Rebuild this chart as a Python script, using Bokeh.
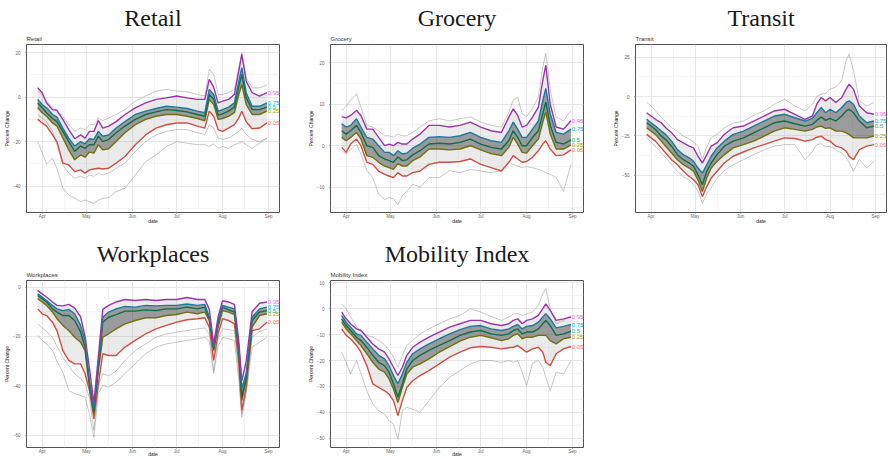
import pandas as pd
from bokeh.plotting import figure
from bokeh.models import Range1d, FixedTicker, DatetimeTickFormatter, Title, ColumnDataSource
from bokeh.layouts import row, column
from bokeh.core.properties import value
from bokeh.embed import file_html
from bokeh.resources import INLINE

DATES = ["2020-03-29", "2020-04-01", "2020-04-04", "2020-04-08", "2020-04-11", "2020-04-15",
         "2020-04-19", "2020-04-23", "2020-04-27", "2020-04-30", "2020-05-03", "2020-05-06",
         "2020-05-09", "2020-05-12", "2020-05-16", "2020-05-21", "2020-05-27", "2020-06-03",
         "2020-06-10", "2020-06-17", "2020-06-24", "2020-07-01", "2020-07-08", "2020-07-15",
         "2020-07-20", "2020-07-23", "2020-07-26", "2020-07-29", "2020-08-01", "2020-08-05",
         "2020-08-09", "2020-08-12", "2020-08-14", "2020-08-17", "2020-08-21", "2020-08-26",
         "2020-08-31"]

QUANTILES = ["0.05", "0.25", "0.5", "0.75", "0.95"]
HUES = ["#F8766D", "#A3A500", "#00BF7D", "#00B0F6", "#E76BF3"]
LINE_COLORS = ["#CF4F45", "#707010", "#0E6E4B", "#1D79A0", "#9B36A8"]

MONTH_TICKS = ["2020-04-01", "2020-05-01", "2020-06-01", "2020-07-01", "2020-08-01", "2020-09-01"]
MINOR_X = ["2020-03-16", "2020-04-16", "2020-05-16", "2020-06-16", "2020-07-16", "2020-08-16", "2020-09-16"]

# ---------------- Retail ----------------
R05 = [-10.0, -11.6, -13.0, -17.0, -20.0, -29.7, -30.5, -33.5, -32.7, -34.2, -32.7, -32.3, -32.0, -32.3, -32.0, -29.7, -26.7, -21.4, -17.0, -13.9, -12.4, -11.6, -11.6, -13.0, -13.9, -6.3, -8.6, -14.6, -15.4, -13.9, -12.4, -9.4, -6.3, -11.0, -14.2, -13.9, -11.6]
R25 = [-4.8, -7.0, -8.6, -11.6, -13.0, -18.4, -23.7, -28.2, -26.0, -27.0, -24.7, -25.2, -21.4, -23.7, -23.2, -20.0, -16.0, -12.4, -10.0, -8.6, -7.8, -7.8, -8.6, -9.6, -10.6, -1.0, -3.3, -10.0, -9.6, -8.6, -7.0, 1.2, 5.7, -3.3, -7.8, -7.8, -6.3]
R50 = [-2.6, -4.8, -7.0, -9.6, -11.0, -15.4, -20.0, -24.4, -22.0, -23.0, -21.4, -21.4, -17.6, -20.0, -19.0, -16.0, -13.0, -10.0, -7.8, -6.6, -5.6, -6.0, -6.6, -7.8, -8.6, 1.2, -1.0, -8.1, -7.5, -6.3, -4.5, 5.0, 10.3, -0.3, -5.6, -5.6, -4.5]
R75 = [-1.0, -3.3, -4.8, -7.8, -9.0, -13.9, -18.4, -22.0, -20.0, -21.0, -18.7, -19.0, -15.4, -17.6, -17.0, -13.9, -11.0, -7.8, -6.3, -5.1, -4.1, -4.5, -5.1, -6.3, -7.0, 3.5, 1.2, -6.3, -5.6, -4.5, -2.6, 7.2, 13.3, 2.0, -4.1, -4.1, -2.6]
R95 = [4.2, 2.0, -2.6, -5.6, -5.9, -10.0, -14.6, -18.7, -17.0, -18.4, -15.4, -15.4, -10.5, -13.9, -13.0, -11.0, -7.8, -4.8, -2.6, -1.0, -0.3, 0.5, -0.3, -1.0, -1.0, 8.0, 4.5, -2.6, -1.8, -1.0, 1.2, 11.8, 19.3, 7.2, 2.0, 0.5, 2.0]
RG1 = [-20, -25, -30, -27.5, -32, -41, -44, -45.5, -47, -46.3, -47, -47.8, -46.3, -45.5, -45.2, -42.5, -41, -35, -29, -26, -22.2, -20, -20.7, -21.4, -21.4, -22.2, -21, -23, -22.2, -23, -21.4, -20.7, -20, -21.4, -23, -20.7, -18.4]
RG2 = [-7.8, -9.4, -11, -15.4, -21.4, -30.5, -34.2, -36.5, -35.6, -36.5, -35, -35.6, -34.2, -35, -34.2, -32, -29.7, -24.4, -20, -17, -15.4, -14.6, -14.6, -16, -16.8, -12.4, -13.9, -18.4, -19, -18.4, -16.8, -15.4, -13.9, -16.8, -19, -20, -18.4]
RG3 = [2.7, 1.2, -1.8, -4.8, -6.3, -8.6, -12.4, -15.4, -13.9, -14.6, -12.4, -12.4, -9.4, -10.6, -9.4, -7.8, -5.6, -1.8, 0.5, 2.7, 3.5, 2.7, 2.4, 1.2, 0.5, 12.5, 10.3, 1.2, 1.2, 2.0, 3.5, 13.5, 20.0, 8.7, 4.2, 4.2, 5.4]

# ---------------- Grocery ----------------
G05 = [-0.4, -1.6, 0.4, 1.6, 0.0, -4.0, -4.5, -6.1, -6.9, -7.3, -7.7, -6.5, -7.3, -7.3, -6.5, -6.1, -4.5, -4.0, -4.0, -3.8, -3.2, -4.5, -5.3, -6.1, -4.0, -2.4, -3.2, -4.0, -3.8, -2.8, -1.2, 0.4, 1.2, -0.8, -2.4, -2.2, -1.0]
G25 = [2.0, 1.2, 2.0, 3.2, 1.6, -2.4, -2.8, -4.0, -4.9, -5.3, -5.7, -4.3, -4.9, -4.9, -3.6, -2.7, -0.8, -0.8, -1.0, -0.8, 0.0, -1.0, -1.9, -2.4, -0.4, 2.0, 0.4, -1.6, -1.8, 0.0, 1.6, 5.7, 8.1, 2.8, -0.8, -0.8, 0.2]
G50 = [3.6, 2.8, 3.6, 4.9, 3.2, 0.0, -0.4, -2.4, -3.2, -3.6, -4.0, -2.7, -3.6, -3.4, -2.2, -1.2, 0.4, 0.6, 0.4, 0.8, 1.6, 0.4, -0.4, -0.8, 1.2, 3.6, 2.0, 0.0, 0.0, 2.0, 3.6, 7.7, 10.5, 4.9, 0.8, 0.4, 1.4]
G75 = [5.3, 4.5, 4.9, 6.5, 4.5, 2.0, 1.6, 0.0, -1.6, -1.6, -2.4, -1.2, -2.0, -1.8, -0.6, 0.4, 2.0, 2.2, 2.0, 2.4, 3.2, 2.0, 1.2, 0.8, 3.6, 5.7, 4.0, 2.0, 2.0, 4.0, 6.0, 10.9, 13.8, 7.7, 3.2, 2.8, 4.0]
G95 = [7.0, 6.7, 7.3, 8.5, 7.3, 4.0, 4.0, 2.0, 0.0, 0.4, 0.0, 0.8, 0.4, 0.4, 1.6, 2.8, 4.9, 4.9, 4.5, 4.9, 5.7, 4.5, 3.6, 3.2, 6.9, 8.9, 7.3, 4.5, 4.9, 6.9, 9.3, 15.8, 19.4, 10.0, 4.5, 4.0, 6.0]
GG1 = [-1.2, -2.0, -1.0, 0.4, -2.0, -6.0, -7.7, -11.7, -13.0, -12.5, -12.8, -14.2, -12.0, -11.0, -9.3, -10.0, -7.7, -7.7, -6.0, -6.5, -5.7, -6.1, -6.5, -6.1, -4.0, -4.5, -4.9, -5.3, -5.0, -5.3, -5.7, -6.1, -6.5, -6.9, -7.7, -11.0, -4.5]
GG2 = [8.5, 9.5, 11.0, 12.5, 9.3, 4.9, 4.5, 3.6, 2.4, 2.4, 2.0, 2.8, 2.4, 2.4, 3.2, 4.5, 6.0, 6.5, 6.0, 6.5, 6.9, 5.7, 4.9, 4.5, 8.0, 11.0, 11.7, 7.7, 7.0, 9.0, 11.7, 19.0, 22.3, 13.4, 6.9, 6.0, 8.5]

# ---------------- Transit ----------------
T05 = [-24.1, -26.3, -28.4, -32.7, -35.9, -40.2, -43.4, -47.6, -50.9, -53.0, -56.2, -63.7, -57.3, -51.9, -47.6, -42.3, -38.0, -35.3, -32.7, -30.6, -28.4, -26.3, -26.7, -28.4, -27.4, -25.9, -25.2, -27.4, -28.4, -31.6, -32.7, -34.8, -38.0, -40.2, -33.8, -31.6, -30.6]
T25 = [-19.9, -22.0, -24.1, -28.4, -31.6, -35.9, -40.2, -43.4, -45.5, -47.6, -53.0, -60.5, -51.9, -45.5, -41.2, -37.0, -32.7, -30.6, -28.4, -25.2, -22.0, -19.9, -20.9, -22.0, -20.9, -19.4, -18.8, -20.3, -19.9, -22.0, -22.0, -23.1, -24.1, -26.3, -26.3, -26.3, -25.2]
T50 = [-16.7, -18.8, -21.0, -25.2, -27.4, -31.6, -37.0, -40.2, -42.3, -44.4, -49.8, -56.2, -47.6, -42.3, -37.0, -31.6, -28.4, -26.3, -23.1, -19.9, -16.7, -15.6, -17.3, -18.8, -17.7, -15.2, -13.0, -15.2, -13.9, -15.6, -12.4, -9.2, -8.1, -10.3, -15.6, -19.9, -18.8]
T75 = [-14.5, -16.7, -18.8, -22.0, -24.1, -28.4, -33.8, -37.0, -39.0, -41.2, -45.5, -48.7, -43.4, -38.0, -32.7, -28.4, -24.1, -22.0, -18.8, -15.6, -12.4, -11.3, -13.5, -15.6, -13.9, -10.3, -7.0, -10.3, -8.1, -10.3, -7.0, -3.8, -2.8, -4.9, -12.4, -16.7, -15.6]
T95 = [-10.3, -12.4, -14.5, -16.7, -19.9, -23.0, -27.4, -29.5, -31.6, -32.7, -38.0, -42.3, -37.0, -31.6, -29.5, -24.0, -19.9, -18.8, -15.6, -12.4, -9.2, -8.1, -11.3, -14.5, -12.4, -4.9, -0.6, -2.8, -0.6, -3.8, -0.6, 4.7, 7.9, 4.7, -6.0, -10.3, -11.3]
TG1 = [-3.8, -6.0, -9.0, -13.5, -16.0, -19.9, -22.0, -25.2, -27.0, -29.0, -31.6, -40.0, -32.0, -26.3, -24.0, -19.9, -17.0, -15.6, -12.0, -9.2, -5.0, -1.7, -6.0, -9.2, -5.0, 0.0, 1.5, 2.0, 4.7, 6.0, 10.0, 22.9, 27.0, 16.5, -2.8, -6.0, -3.8]
TG2 = [-26.3, -29.0, -31.6, -35.9, -39.0, -43.4, -47.6, -51.0, -53.0, -56.0, -60.0, -68.0, -62.0, -58.0, -52.0, -47.0, -43.4, -40.2, -37.0, -34.0, -31.6, -30.6, -30.6, -40.2, -35.0, -30.6, -30.0, -32.0, -31.6, -34.0, -36.0, -39.0, -42.0, -47.6, -40.0, -45.5, -41.2]

# ---------------- Workplaces ----------------
W05 = [-8.8, -10.8, -11.5, -14.2, -17.6, -25.7, -29.7, -31.1, -31.1, -35.1, -41.9, -53.4, -39.2, -27.0, -27.7, -27.7, -24.3, -21.6, -18.9, -16.9, -15.5, -14.2, -13.2, -12.8, -12.4, -16.2, -29.7, -18.9, -12.8, -13.5, -14.9, -31.0, -50.0, -40.5, -17.6, -16.9, -14.2]
W25 = [-4.7, -6.0, -7.4, -10.1, -12.8, -15.5, -17.6, -20.3, -22.3, -25.7, -40.5, -51.5, -33.8, -20.3, -18.9, -16.9, -14.9, -13.5, -12.4, -12.4, -11.5, -11.1, -10.1, -10.8, -10.1, -13.5, -25.7, -16.2, -9.5, -10.1, -11.1, -27.0, -46.0, -37.8, -16.2, -11.5, -10.8]
W50 = [-3.4, -4.7, -6.0, -8.8, -10.1, -11.5, -11.5, -13.5, -18.2, -24.3, -39.2, -50.5, -32.4, -14.2, -12.2, -11.1, -9.7, -9.7, -9.2, -9.5, -8.8, -8.8, -8.1, -8.8, -8.1, -12.8, -25.0, -14.2, -8.1, -9.2, -10.1, -25.7, -44.6, -36.5, -13.5, -10.1, -9.5]
W75 = [-2.7, -4.0, -5.4, -7.4, -8.8, -9.5, -9.0, -10.8, -15.5, -21.6, -37.8, -49.5, -31.0, -12.2, -10.1, -8.8, -7.8, -8.1, -7.4, -7.6, -7.4, -7.4, -6.8, -7.4, -7.0, -12.0, -24.3, -13.5, -7.4, -8.1, -8.8, -24.0, -41.0, -35.0, -12.2, -8.8, -8.1]
W95 = [-1.4, -2.7, -4.0, -6.0, -7.4, -7.6, -7.0, -8.5, -12.0, -20.0, -33.0, -47.0, -28.0, -9.0, -7.4, -6.0, -5.0, -5.4, -5.0, -5.4, -5.0, -5.0, -4.2, -5.0, -5.0, -9.0, -23.0, -12.0, -5.5, -6.0, -7.0, -22.0, -38.0, -30.0, -10.0, -6.5, -6.0]
WG1 = [-19.6, -21.6, -23.0, -25.7, -30.0, -34.5, -41.9, -43.2, -43.9, -44.6, -51.4, -60.8, -43.0, -39.9, -40.5, -38.5, -35.0, -31.0, -27.0, -24.3, -23.0, -22.3, -21.6, -21.0, -20.3, -22.0, -35.0, -24.0, -20.3, -20.9, -21.6, -37.8, -52.7, -43.0, -24.3, -22.3, -20.3]
WG2 = [-14.9, -16.5, -18.0, -20.3, -24.0, -28.4, -32.0, -35.1, -37.0, -39.2, -45.0, -58.0, -40.0, -35.0, -36.0, -34.0, -29.7, -25.7, -23.0, -20.3, -19.0, -18.2, -17.6, -16.9, -16.5, -19.0, -33.8, -21.0, -16.9, -17.2, -17.6, -35.0, -51.4, -42.0, -20.3, -18.0, -16.9]

# ---------------- Mobility Index ----------------
M05 = [-7.8, -10.3, -11.6, -14.2, -16.8, -22.0, -29.0, -30.4, -31.7, -33.0, -35.5, -41.3, -35.5, -30.4, -27.8, -25.8, -23.9, -21.3, -18.7, -16.8, -15.1, -14.6, -14.9, -15.5, -15.1, -14.9, -14.2, -15.5, -16.8, -15.5, -14.9, -16.8, -20.7, -22.0, -17.4, -15.5, -14.6]
M25 = [-5.2, -7.8, -9.7, -12.3, -14.2, -17.4, -20.7, -23.3, -24.5, -27.1, -31.0, -36.2, -30.4, -25.2, -22.6, -21.3, -19.4, -16.8, -14.6, -12.5, -11.0, -10.3, -11.2, -12.3, -11.6, -10.3, -9.7, -11.6, -11.0, -11.0, -10.3, -10.3, -10.3, -12.3, -13.6, -11.6, -11.0]
M50 = [-3.9, -6.5, -8.4, -11.0, -12.3, -14.9, -18.0, -20.7, -22.0, -24.5, -29.0, -34.2, -29.0, -23.3, -20.0, -18.0, -16.1, -14.2, -12.3, -10.3, -9.0, -8.4, -9.7, -10.3, -9.7, -8.4, -7.8, -9.7, -9.0, -9.0, -7.8, -5.8, -4.5, -6.5, -10.3, -9.7, -8.7]
M75 = [-2.6, -5.2, -7.1, -9.7, -10.3, -12.9, -15.5, -18.0, -19.4, -22.0, -25.8, -29.0, -25.2, -20.7, -17.4, -15.5, -13.6, -11.6, -9.7, -8.1, -6.8, -6.5, -7.8, -8.4, -7.8, -6.8, -6.1, -7.8, -6.8, -6.5, -5.2, -3.2, -1.9, -3.9, -7.4, -6.8, -6.1]
M95 = [-1.3, -3.9, -5.8, -7.8, -8.4, -11.0, -13.6, -15.5, -16.8, -19.4, -22.6, -25.8, -22.6, -18.0, -14.9, -12.9, -11.0, -9.0, -7.1, -5.8, -4.5, -4.5, -5.8, -6.5, -5.8, -4.5, -3.9, -5.8, -4.5, -3.9, -2.6, 0.0, 1.9, -0.6, -4.5, -3.9, -3.2]
MG1 = [-16.8, -20.7, -25.2, -20.0, -25.0, -31.7, -36.8, -39.4, -40.7, -43.3, -44.6, -50.4, -39.4, -38.1, -38.8, -40.0, -35.5, -30.4, -26.5, -23.9, -21.3, -20.0, -20.0, -20.7, -20.0, -20.7, -20.0, -24.5, -29.7, -21.0, -20.0, -22.6, -26.5, -31.7, -24.5, -25.2, -20.0]
MG2 = [1.9, 0.0, -3.2, -7.1, -8.4, -10.3, -11.0, -12.3, -14.0, -16.0, -18.7, -22.6, -18.0, -14.2, -12.3, -9.7, -7.8, -5.8, -3.9, -2.6, 0.0, -1.3, -3.0, -4.5, -3.2, -2.0, -1.9, -2.6, -2.0, -1.3, 1.3, 5.8, 7.8, 0.0, -5.8, -4.5, -2.6]

PANELS = [
    dict(name="Retail", q=[R05, R25, R50, R75, R95], grey=[RG1, RG2, RG3],
         yr=(-51.9, 23.7), yt=[-40, -20, 0, 20], ym=[-50, -30, -10, 10]),
    dict(name="Grocery", q=[G05, G25, G50, G75, G95], grey=[GG1, GG2],
         yr=(-16.1, 24.4), yt=[-10, 0, 10, 20], ym=[-15, -5, 5, 15]),
    dict(name="Transit", q=[T05, T25, T50, T75, T95], grey=[TG1, TG2],
         yr=(-73.8, 33.1), yt=[-50, -25, 0, 25], ym=[-62.5, -37.5, -12.5, 12.5]),
    dict(name="Workplaces", q=[W05, W25, W50, W75, W95], grey=[WG1, WG2],
         yr=(-65.0, 2.7), yt=[-60, -40, -20, 0], ym=[-50, -30, -10]),
    dict(name="Mobility Index", q=[M05, M25, M50, M75, M95], grey=[MG1, MG2],
         yr=(-53.6, 10.9), yt=[-50, -40, -30, -20, -10, 0, 10], ym=[-45, -35, -25, -15, -5, 5]),
]

# width, height, border left, right, top, bottom, big-title offset, x-axis-label standoff
GEOM = [(304, 236, 23, 25, 44, 24, -7, -4), (305, 236, 23, 26, 44, 24, 0, -4), (279, 236, 23, 2, 44, 24, -2, -4),
        (304, 223, 23, 25, 44, 12, -7, -6), (305, 223, 23, 26, 44, 12, -2, -6)]

x = pd.to_datetime(pd.Series(DATES))
ms = lambda s: pd.Timestamp(s).value / 1e6


def make_panel(pan, geom):
    w, h, bl, br, bt, bb, toff, xls = geom
    p = figure(width=w, height=h, x_axis_type="datetime", title=None,
               x_range=Range1d(pd.Timestamp("2020-03-21 10:00"), pd.Timestamp("2020-09-08 12:00")),
               y_range=Range1d(*pan["yr"]), output_backend="svg", toolbar_location=None,
               min_border_left=bl, min_border_right=br, min_border_top=bt, min_border_bottom=bb)
    p.background_fill_color = "white"
    p.border_fill_color = "white"
    p.outline_line_color = "#555555"
    p.outline_line_width = 1

    p.xaxis.ticker = FixedTicker(ticks=[ms(s) for s in MONTH_TICKS], minor_ticks=[ms(s) for s in MINOR_X])
    fmt = "%b"
    p.xaxis.formatter = DatetimeTickFormatter(milliseconds=fmt, seconds=fmt, minsec=fmt, minutes=fmt,
                                              hourmin=fmt, hours=fmt, days=fmt, months=fmt, years=fmt)
    p.yaxis.ticker = FixedTicker(ticks=pan["yt"], minor_ticks=pan["ym"])
    p.xaxis.axis_label = "date"
    p.yaxis.axis_label = "Percent Change"
    for ax in (p.xaxis, p.yaxis):
        ax.axis_line_color = None
        ax.major_tick_line_color = "#333333"
        ax.major_tick_line_width = 0.6
        ax.major_tick_in = 0
        ax.major_tick_out = 1
        ax.minor_tick_line_color = None
        ax.major_label_text_font = "Liberation Sans"
        ax.major_label_text_font_size = "4.5px"
        ax.major_label_text_color = "#666666"
        ax.axis_label_text_font = "Liberation Sans"
        ax.axis_label_text_font_size = "5px"
        ax.axis_label_text_font_style = "normal"
        ax.axis_label_text_color = "#222222"
    p.xaxis.major_label_standoff = -3
    p.xaxis.axis_label_standoff = xls
    p.yaxis.major_label_standoff = 2
    p.yaxis.axis_label_standoff = 0
    for g in (p.xgrid, p.ygrid):
        g.grid_line_color = "#E4E4E4"
        g.grid_line_width = 0.9
        g.minor_grid_line_color = "#EEEEEE"
        g.minor_grid_line_width = 0.6

    q = pan["q"]
    # grey spread of the regional series, between the outer and inner quantiles
    p.varea(x=x, y1=q[0], y2=q[4], fill_color="#A0A0A0", fill_alpha=0.22)
    p.varea(x=x, y1=q[1], y2=q[3], fill_color="#1A1A1A", fill_alpha=0.38)
    for gser in pan["grey"]:
        p.line(x, gser, line_color="#8C8C8C", line_width=0.6, line_alpha=0.8)
    for i, ser in enumerate(q):
        p.line(x, ser, line_color=LINE_COLORS[i], line_width=1.4)
    src = ColumnDataSource(dict(x=[x.iloc[-1] + pd.Timedelta(hours=12)] * 5,
                                y=[ser[-1] for ser in q], t=QUANTILES, c=HUES))
    p.text(x="x", y="y", text="t", text_color="c", source=src, text_font_size="6px",
           text_baseline="middle", text_align="left", text_font=value("Liberation Sans"))

    p.add_layout(Title(text=pan["name"], align="left", text_font="Liberation Sans", text_font_size="6px",
                       text_font_style="normal", text_color="#333333", vertical_align="top",
                       standoff=2), "above")
    p.add_layout(Title(text=pan["name"], align="center", text_font="Liberation Serif", text_font_size="24px",
                       text_font_style="normal", text_color="#1A1A1A", vertical_align="top",
                       standoff=3, offset=toff), "above")
    return p


figs = [make_panel(pan, g) for pan, g in zip(PANELS, GEOM)]
layout = column(row(figs[0], figs[1], figs[2]), row(figs[3], figs[4]))
open("out.html", "w").write(file_html(layout, INLINE))
